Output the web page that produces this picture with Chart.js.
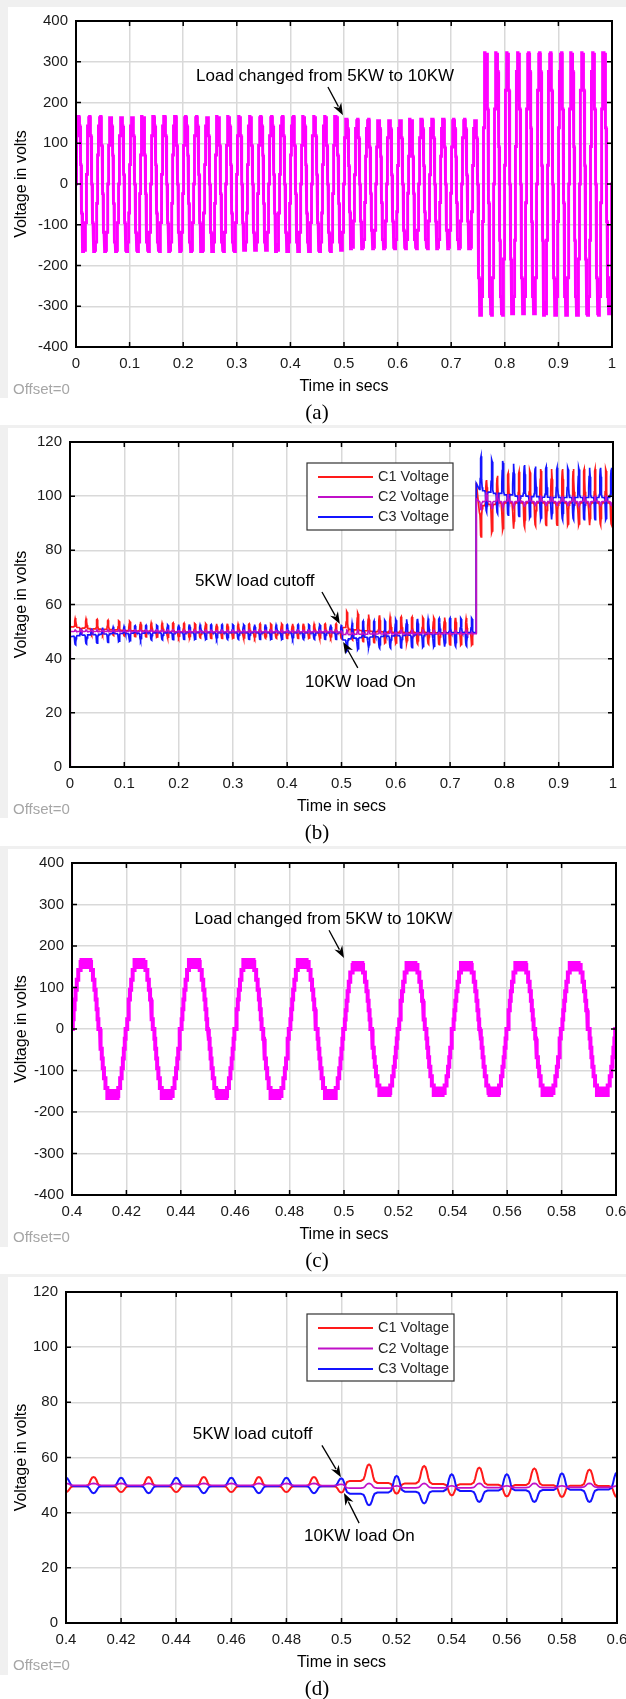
<!DOCTYPE html>
<html lang="en">
<head>
  <meta charset="UTF-8" />
  <title>Inverter output and capacitor voltages</title>
  <script src="https://cdn.jsdelivr.net/npm/chart.js"></script>
  <style>
    html, body { margin: 0; padding: 0; background: #fff; }
    body { width: 626px; height: 1699px; position: relative; overflow: hidden; }
    canvas { position: absolute; left: 0; }
    .edge { position: absolute; background: #f0f0f0; }
  </style>
</head>
<body>
  <!-- light grey screenshot edges round each figure -->
  <div class="edge" style="left:0;top:0;width:626px;height:7px"></div>
  <div class="edge" style="left:0;top:0;width:8px;height:398px"></div>
  <div class="edge" style="left:0;top:425px;width:626px;height:3px"></div>
  <div class="edge" style="left:0;top:425px;width:8px;height:393px"></div>
  <div class="edge" style="left:0;top:846px;width:626px;height:3px"></div>
  <div class="edge" style="left:0;top:846px;width:8px;height:401px"></div>
  <div class="edge" style="left:0;top:1274px;width:626px;height:3px"></div>
  <div class="edge" style="left:0;top:1274px;width:8px;height:401px"></div>

  <canvas id="chartA" width="660" height="445" style="top:0"></canvas>
  <canvas id="chartB" width="660" height="445" style="top:420px"></canvas>
  <canvas id="chartC" width="660" height="445" style="top:840px"></canvas>
  <canvas id="chartD" width="660" height="445" style="top:1260px"></canvas>

  <script>
    // ---------------- axis ticks ----------------
    const xTicksFull = [0, 0.1, 0.2, 0.3, 0.4, 0.5, 0.6, 0.7, 0.8, 0.9, 1];
    const xLabelsFull = ['0', '0.1', '0.2', '0.3', '0.4', '0.5', '0.6', '0.7', '0.8', '0.9', '1'];
    const xTicksZoom = [0.4, 0.42, 0.44, 0.46, 0.48, 0.5, 0.52, 0.54, 0.56, 0.58, 0.6];
    const xLabelsZoom = ['0.4', '0.42', '0.44', '0.46', '0.48', '0.5', '0.52', '0.54', '0.56', '0.58', '0.6'];
    const yTicksInv = [-400, -300, -200, -100, 0, 100, 200, 300, 400];
    const yTicksCap = [0, 20, 40, 60, 80, 100, 120];

    // ---------------- inverter output (a), (c) ----------------
    // staircase of one positive half cycle (times in ms from the zero crossing)
    const stepTimes = [0, 0.3, 0.6, 0.95, 1.3, 1.75, 2.3, 3.0];
    const stepLevels = [0, 23, 46, 69, 92, 115, 138, 161];
    const chatterLow = 145;      // PWM level under the top step
    const chatterMs = 0.25;
    // peak voltage per load interval
    const ampStart = [0, 0.5, 0.75];
    const ampPeak = [166, 159, 322];

    // ---------------- capacitor voltages (b), (d) ----------------
    // ripple events every 10 ms; value at the event and level around it
    const jumpAt = 0.748;
    const c1Start = 51.8, c2Start = 50.0, c3Start = 48.1;
    const c1BasePre = [
      51.7, 51.5, 51.3, 51.1, 51.0, 50.9, 50.8, 50.7, 50.6,
      50.5, 50.4, 50.3, 50.2, 50.2, 50.1, 50.0, 50.0, 49.9, 49.9,
      49.8, 49.8, 49.8, 49.7, 49.7, 49.7, 49.7, 49.6, 49.6, 49.6,
      49.6, 49.6, 49.6, 49.6, 49.6, 49.6, 49.6, 49.6, 49.6, 49.6,
      49.6, 49.6, 49.6, 49.6, 49.6, 49.6, 49.6, 49.6, 49.6, 49.6,
      49.6, 51.5, 50.8, 50.6, 50.4, 50.3, 50.1, 50.0, 49.9, 49.8,
      49.7, 49.7, 49.7, 49.6, 49.6, 49.6, 49.6, 49.5, 49.5, 49.5,
      49.5, 49.5, 49.5, 49.5, 49.5
    ];
    const c1ExtPre = [
      55.0, 49.4, 54.8, 49.0, 54.5, 48.7, 54.2, 48.5, 54.0,
      48.3, 53.8, 48.1, 53.6, 48.0, 53.4, 47.9, 53.3, 47.8, 53.2,
      47.7, 53.1, 47.6, 53.0, 47.6, 53.0, 47.5, 52.9, 47.5, 52.9,
      47.5, 52.9, 47.5, 52.9, 47.5, 52.9, 47.5, 52.9, 47.5, 52.9,
      47.5, 52.9, 47.5, 52.9, 47.5, 52.9, 47.5, 52.9, 47.5, 52.9,
      47.3, 57.5, 46.9, 56.9, 46.3, 56.3, 45.9, 56.0, 45.7, 55.6,
      45.6, 55.5, 45.5, 55.4, 45.4, 55.3, 45.3, 55.2, 45.2, 55.2,
      45.1, 55.1, 45.0, 55.0, 45.0
    ];
    const c1Jump = 105;
    const c1BasePost = [
      94.0, 96.5, 97.0, 97.0, 97.5, 97.5, 97.5, 97.5, 97.5, 97.5,
      97.5, 97.5, 97.5, 97.5, 97.5, 97.5, 97.5, 97.5, 97.5, 97.5,
      97.5, 97.5, 97.5, 97.5, 97.5
    ];
    const c1ExtPost = [
      85.0, 106.0, 86.5, 107.5, 87.5, 108.5, 88.0, 109.0, 88.5, 109.5,
      89.0, 110.0, 89.2, 110.0, 89.3, 110.0, 89.3, 110.0, 89.3, 110.0,
      89.3, 110.0, 89.3, 110.0, 89.3
    ];

    const c2BasePre = [
      50.0, 50.0, 50.0, 50.0, 50.0, 50.0, 50.0, 50.0, 50.0,
      50.0, 50.0, 50.0, 50.0, 50.0, 50.0, 50.0, 50.0, 50.0, 50.0,
      49.9, 49.9, 49.9, 49.9, 49.9, 49.9, 49.9, 49.9, 49.9, 49.9,
      49.9, 49.9, 49.9, 49.9, 49.9, 49.9, 49.9, 49.9, 49.9, 49.9,
      49.9, 49.9, 49.9, 49.9, 49.9, 49.9, 49.9, 49.9, 49.9, 49.9,
      49.8, 48.9, 48.9, 49.0, 49.0, 49.0, 49.1, 49.1, 49.1, 49.2,
      49.2, 49.2, 49.2, 49.2, 49.2, 49.2, 49.2, 49.2, 49.2, 49.2,
      49.2, 49.2, 49.2, 49.2, 49.2
    ];
    const c2ExtPre = [
      50.7, 50.7, 50.7, 50.7, 50.7, 50.7, 50.7, 50.7, 50.7,
      50.7, 50.7, 50.7, 50.7, 50.7, 50.7, 50.7, 50.7, 50.7, 50.7,
      50.6, 50.6, 50.6, 50.6, 50.6, 50.6, 50.6, 50.6, 50.6, 50.6,
      50.6, 50.6, 50.6, 50.6, 50.6, 50.6, 50.6, 50.6, 50.6, 50.6,
      50.6, 50.6, 50.6, 50.6, 50.6, 50.6, 50.6, 50.6, 50.6, 50.6,
      50.3, 50.6, 49.7, 50.6, 49.7, 50.6, 49.7, 50.6, 49.7, 50.6,
      49.7, 50.6, 49.7, 50.6, 49.7, 50.6, 49.7, 50.6, 49.7, 50.6,
      49.7, 50.6, 49.7, 50.6, 49.7
    ];
    const c2Jump = 99;
    const c2BasePost = [
      98, 98, 98, 98, 98, 98, 98, 98, 98, 98,
      98, 98, 98, 98, 98, 98, 98, 98, 98, 98,
      98, 98, 98, 98, 98
    ];
    const c2ExtPost = [
      95.0, 101.5, 95.5, 100.8, 96.0, 100.5, 96.2, 100.2, 96.3, 100.0,
      96.5, 100.0, 96.5, 100.0, 96.5, 100.0, 96.5, 100.0, 96.5, 100.0,
      96.5, 100.0, 96.5, 100.0, 96.5
    ];

    const c3BasePre = [
      48.3, 48.5, 48.7, 48.8, 48.9, 49.0, 49.1, 49.2, 49.2,
      49.3, 49.3, 49.4, 49.4, 49.4, 49.5, 49.5, 49.5, 49.5, 49.5,
      49.6, 49.6, 49.6, 49.6, 49.6, 49.6, 49.6, 49.6, 49.6, 49.6,
      49.6, 49.6, 49.6, 49.6, 49.6, 49.6, 49.6, 49.6, 49.6, 49.6,
      49.6, 49.6, 49.6, 49.6, 49.6, 49.6, 49.6, 49.6, 49.6, 49.6,
      49.6, 46.9, 47.3, 47.6, 47.8, 47.9, 48.0, 48.1, 48.2, 48.3,
      48.4, 48.5, 48.6, 48.7, 48.8, 48.9, 49.0, 49.1, 49.2, 49.3,
      49.4, 49.5, 49.5, 49.6, 49.6
    ];
    const c3ExtPre = [
      45.1, 50.8, 45.4, 51.2, 45.7, 51.5, 46.0, 51.8, 46.3,
      52.0, 46.5, 52.2, 46.7, 52.3, 46.8, 52.4, 46.9, 52.5, 47.0,
      52.6, 47.1, 52.6, 47.1, 52.6, 47.1, 52.6, 47.1, 52.6, 47.1,
      52.6, 47.1, 52.6, 47.1, 52.6, 47.1, 52.6, 47.1, 52.6, 47.1,
      52.6, 47.1, 52.6, 47.1, 52.6, 47.1, 52.6, 47.1, 52.6, 47.1,
      52.4, 42.7, 53.3, 43.4, 53.9, 43.9, 53.9, 43.9, 54.2, 43.9,
      54.5, 44.0, 54.6, 44.1, 54.7, 44.2, 54.8, 44.3, 54.9, 44.4,
      55.0, 44.5, 55.0, 44.6, 55.0
    ];
    const c3Jump = 104.7;
    const c3BasePost = [
      102.5, 102.0, 101.5, 101.0, 101.0, 100.5, 100.5, 100.0, 100.0, 100.0,
      99.8, 99.8, 99.6, 99.6, 99.5, 99.5, 99.5, 99.5, 99.5, 99.5,
      99.5, 99.5, 99.5, 99.5, 99.5
    ];
    const c3ExtPost = [
      114.7, 94.2, 113.5, 93.6, 113.0, 93.0, 112.0, 92.5, 111.5, 92.0,
      111.0, 91.5, 110.8, 91.4, 110.5, 91.3, 110.5, 91.3, 110.5, 91.3,
      110.5, 91.3, 110.5, 91.3, 110.5
    ];

    // shape of one ripple hump (offsets in s, fraction of the swing)
    const bumpOff = [-0.003, -0.002, -0.0015, -0.001, -0.0005, 0, 0.0005, 0.001, 0.0015, 0.002, 0.003];
    const bumpShape = [0, 0.1, 0.33, 0.7, 0.94, 1, 0.94, 0.7, 0.33, 0.1, 0];

    // event times: every 10 ms up to the step, then shifted after it
    const evPre = c1BasePre.map((_, k) => +(0.01 * (k + 1)).toFixed(3));
    const evPost = c1BasePost.map((_, j) => +(0.757 + 0.01 * j).toFixed(3));

    function peakAt(t) {
      let a = ampPeak[0];
      ampStart.forEach((s, i) => { if (t >= s) a = ampPeak[i]; });
      return a;
    }

    function inverterPoints() {
      const pts = [];
      const top = stepLevels[stepLevels.length - 1];
      const topStart = stepTimes[stepTimes.length - 1];
      for (let h = 0; h < 100; h++) {
        const t0 = h * 0.01;
        const k = (h % 2 ? -1 : 1) * peakAt(t0 + 0.005) / top;
        let cur = 0;
        const put = (ms, lvl) => {
          const t = t0 + ms / 1000;
          pts.push({ x: t, y: cur * k }, { x: t, y: lvl * k });
          cur = lvl;
        };
        pts.push({ x: t0, y: 0 });
        for (let i = 1; i < stepLevels.length; i++) put(stepTimes[i], stepLevels[i]);
        let n = 1;
        for (let ms = topStart + chatterMs; ms < 10 - topStart - 1e-6; ms += chatterMs, n++) {
          put(ms, n % 2 ? chatterLow : top);
        }
        put(10 - topStart, top);
        for (let i = stepLevels.length - 1; i >= 1; i--) put(10 - stepTimes[i], stepLevels[i - 1]);
      }
      pts.push({ x: 1, y: 0 });
      return pts;
    }

    function addEvents(pts, times, base, ext) {
      times.forEach((t, k) => {
        const bl = base[k];
        const br = k + 1 < base.length ? base[k + 1] : base[k];
        bumpOff.forEach((o, i) => {
          const b = o < 0 ? bl : br;
          pts.push({ x: t + o, y: b + (ext[k] - b) * bumpShape[i] });
        });
      });
    }

    function capPoints(start, basePre, extPre, jump, basePost, extPost) {
      const pts = [{ x: 0, y: 0 }, { x: 0.0004, y: start }];
      addEvents(pts, evPre, basePre, extPre);
      pts.push({ x: jumpAt - 0.0002, y: basePre[basePre.length - 1] });
      pts.push({ x: jumpAt + 0.0002, y: jump });
      addEvents(pts, evPost, basePost, extPost);
      pts.push({ x: 1, y: basePost[basePost.length - 1] });
      return pts;
    }

    const invData = inverterPoints();
    const c1Data = capPoints(c1Start, c1BasePre, c1ExtPre, c1Jump, c1BasePost, c1ExtPost);
    const c2Data = capPoints(c2Start, c2BasePre, c2ExtPre, c2Jump, c2BasePost, c2ExtPost);
    const c3Data = capPoints(c3Start, c3BasePre, c3ExtPre, c3Jump, c3BasePost, c3ExtPost);

    // ---------------- drawing helpers ----------------
    const SANS = "'Liberation Sans', Arial, sans-serif";
    const SERIF = "'Liberation Serif', 'Times New Roman', serif";
    const X_BAND = 60;   // height of the x scale box under the plot

    function arrow(ctx, x1, y1, x2, y2) {
      const a = Math.atan2(y2 - y1, x2 - x1);
      const len = 12, half = 4.5;
      ctx.beginPath();
      ctx.moveTo(x1, y1);
      ctx.lineTo(x2 - Math.cos(a) * len * 0.8, y2 - Math.sin(a) * len * 0.8);
      ctx.stroke();
      ctx.beginPath();
      ctx.moveTo(x2, y2);
      ctx.lineTo(x2 - Math.cos(a) * len + Math.sin(a) * half, y2 - Math.sin(a) * len - Math.cos(a) * half);
      ctx.lineTo(x2 - Math.cos(a) * len * 0.7, y2 - Math.sin(a) * len * 0.7);
      ctx.lineTo(x2 - Math.cos(a) * len - Math.sin(a) * half, y2 - Math.sin(a) * len + Math.cos(a) * half);
      ctx.closePath();
      ctx.fill();
    }

    // box, inner tick marks, notes, legend, captions
    const framePlugin = {
      id: 'frame',
      afterDraw(chart, args, opts) {
        const ctx = chart.ctx;
        const { left, right, top, bottom } = chart.chartArea;
        const xs = chart.scales.x, ys = chart.scales.y;
        ctx.save();
        ctx.strokeStyle = '#000';
        ctx.lineWidth = 1.5;
        ctx.beginPath();
        xs.ticks.forEach(t => {
          const px = xs.getPixelForValue(t.value);
          ctx.moveTo(px, bottom); ctx.lineTo(px, bottom - 5);
          ctx.moveTo(px, top); ctx.lineTo(px, top + 5);
        });
        ys.ticks.forEach(t => {
          const py = ys.getPixelForValue(t.value);
          ctx.moveTo(left, py); ctx.lineTo(left + 5, py);
          ctx.moveTo(right, py); ctx.lineTo(right - 5, py);
        });
        ctx.stroke();
        ctx.lineWidth = 2;
        ctx.strokeRect(left, top, right - left, bottom - top);

        // annotations
        ctx.fillStyle = '#000';
        ctx.lineWidth = 1.3;
        ctx.font = '17px ' + SANS;
        ctx.textAlign = 'left';
        ctx.textBaseline = 'middle';
        (opts.notes || []).forEach(n => {
          ctx.fillText(n.text, xs.getPixelForValue(n.at[0]), ys.getPixelForValue(n.at[1]));
          arrow(ctx, xs.getPixelForValue(n.from[0]), ys.getPixelForValue(n.from[1]),
            xs.getPixelForValue(n.to[0]), ys.getPixelForValue(n.to[1]));
        });

        // legend box
        if (opts.legend) {
          const lg = opts.legend;
          const lx = left + lg.dx, ly = top + lg.dy;
          ctx.fillStyle = '#fff';
          ctx.fillRect(lx, ly, lg.w, lg.h);
          ctx.strokeStyle = '#333';
          ctx.lineWidth = 1.2;
          ctx.strokeRect(lx, ly, lg.w, lg.h);
          ctx.font = '14.5px ' + SANS;
          chart.data.datasets.forEach((ds, i) => {
            const ry = ly + 14 + i * lg.row;
            ctx.strokeStyle = ds.borderColor;
            ctx.lineWidth = 1.8;
            ctx.beginPath();
            ctx.moveTo(lx + 11, ry); ctx.lineTo(lx + 66, ry);
            ctx.stroke();
            ctx.fillStyle = '#262626';
            ctx.fillText(ds.label, lx + 71, ry);
          });
        }

        // footer texts
        ctx.fillStyle = '#a6a6a6';
        ctx.font = '15px ' + SANS;
        ctx.fillText('Offset=0', 13, bottom + 43);
        ctx.fillStyle = '#000';
        ctx.font = '21px ' + SERIF;
        ctx.textAlign = 'center';
        ctx.fillText(opts.caption, 317, bottom + 66);
        ctx.restore();
      }
    };

    function makeChart(id, p) {
      const canvas = document.getElementById(id);
      const W = canvas.width, H = canvas.height;
      const tickFont = { family: SANS, size: 15 };
      const titleFont = { family: SANS, size: 16 };
      return new Chart(canvas, {
        type: 'line',
        data: { datasets: p.datasets },
        options: {
          responsive: false,
          animation: false,
          events: [],
          parsing: false,
          normalized: true,
          layout: { padding: { left: 0, top: p.T, right: W - p.R, bottom: H - p.B - X_BAND } },
          elements: { point: { radius: 0 }, line: { tension: 0 } },
          plugins: {
            legend: { display: false },
            tooltip: { enabled: false },
            frame: { notes: p.notes, legend: p.legend, caption: p.caption }
          },
          scales: {
            x: {
              type: 'linear',
              min: p.xTicks[0],
              max: p.xTicks[p.xTicks.length - 1],
              afterBuildTicks: s => { s.ticks = p.xTicks.map(v => ({ value: v })); },
              afterFit: s => { s.height = X_BAND; },
              ticks: {
                callback: (v, i) => p.xLabels[i],
                font: tickFont, color: '#1a1a1a', padding: 8,
                maxRotation: 0, autoSkip: false
              },
              grid: { color: '#d9d9d9', lineWidth: 1.5, drawTicks: false },
              border: { display: false },
              title: {
                display: true, text: 'Time in secs', font: titleFont, color: '#000',
                padding: { top: 0, bottom: X_BAND - 49.6 }
              }
            },
            y: {
              min: p.yTicks[0],
              max: p.yTicks[p.yTicks.length - 1],
              afterBuildTicks: s => { s.ticks = p.yTicks.map(v => ({ value: v })); },
              afterFit: s => { s.width = p.L; },
              ticks: { callback: v => String(v), font: tickFont, color: '#1a1a1a', padding: 8 },
              grid: { color: '#d9d9d9', lineWidth: 1.5, drawTicks: false },
              border: { display: false },
              title: {
                display: true, text: 'Voltage in volts', font: titleFont, color: '#000',
                padding: { top: 12.4, bottom: 0 }
              }
            }
          }
        },
        plugins: [framePlugin]
      });
    }

    function invDataset(width) {
      return [{ label: 'Inverter voltage', data: invData, borderColor: '#ff00ff', borderWidth: width, borderJoinStyle: 'miter' }];
    }
    function capDatasets(width) {
      return [
        { label: 'C1 Voltage', data: c1Data, borderColor: '#ff1a1a', borderWidth: width, order: 2 },
        { label: 'C2 Voltage', data: c2Data, borderColor: '#c010c8', borderWidth: width * 0.85, order: 0 },
        { label: 'C3 Voltage', data: c3Data, borderColor: '#1414ff', borderWidth: width, order: 1 }
      ];
    }

    makeChart('chartA', {
      L: 76, R: 612, T: 21, B: 347,
      xTicks: xTicksFull, xLabels: xLabelsFull, yTicks: yTicksInv,
      datasets: invDataset(2.9),
      caption: '(a)',
      notes: [{ text: 'Load changed from 5KW to 10KW', at: [0.224, 265], from: [0.470, 238], to: [0.498, 169] }]
    });
    makeChart('chartB', {
      L: 70, R: 613, T: 22, B: 347,
      xTicks: xTicksFull, xLabels: xLabelsFull, yTicks: yTicksCap,
      datasets: capDatasets(1.7),
      caption: '(b)',
      legend: { dx: 237, dy: 21, w: 146, h: 67, row: 20 },
      notes: [
        { text: '5KW load cutoff', at: [0.230, 68.7], from: [0.464, 64.6], to: [0.497, 52.8] },
        { text: '10KW load On', at: [0.433, 31.4], from: [0.530, 36.6], to: [0.503, 46.2] }
      ]
    });
    makeChart('chartC', {
      L: 72, R: 616, T: 23, B: 355,
      xTicks: xTicksZoom, xLabels: xLabelsZoom, yTicks: yTicksInv,
      datasets: invDataset(4),
      caption: '(c)',
      notes: [{ text: 'Load changed from 5KW to 10KW', at: [0.445, 264], from: [0.4945, 238], to: [0.5, 171] }]
    });
    makeChart('chartD', {
      L: 66, R: 617, T: 32, B: 363,
      xTicks: xTicksZoom, xLabels: xLabelsZoom, yTicks: yTicksCap,
      datasets: capDatasets(2),
      caption: '(d)',
      legend: { dx: 241, dy: 22, w: 147, h: 67, row: 20.5 },
      notes: [
        { text: '5KW load cutoff', at: [0.446, 68.4], from: [0.4929, 64.4], to: [0.4998, 52.8] },
        { text: '10KW load On', at: [0.4864, 31.5], from: [0.5064, 36.2], to: [0.5009, 47.1] }
      ]
    });
  </script>
</body>
</html>
